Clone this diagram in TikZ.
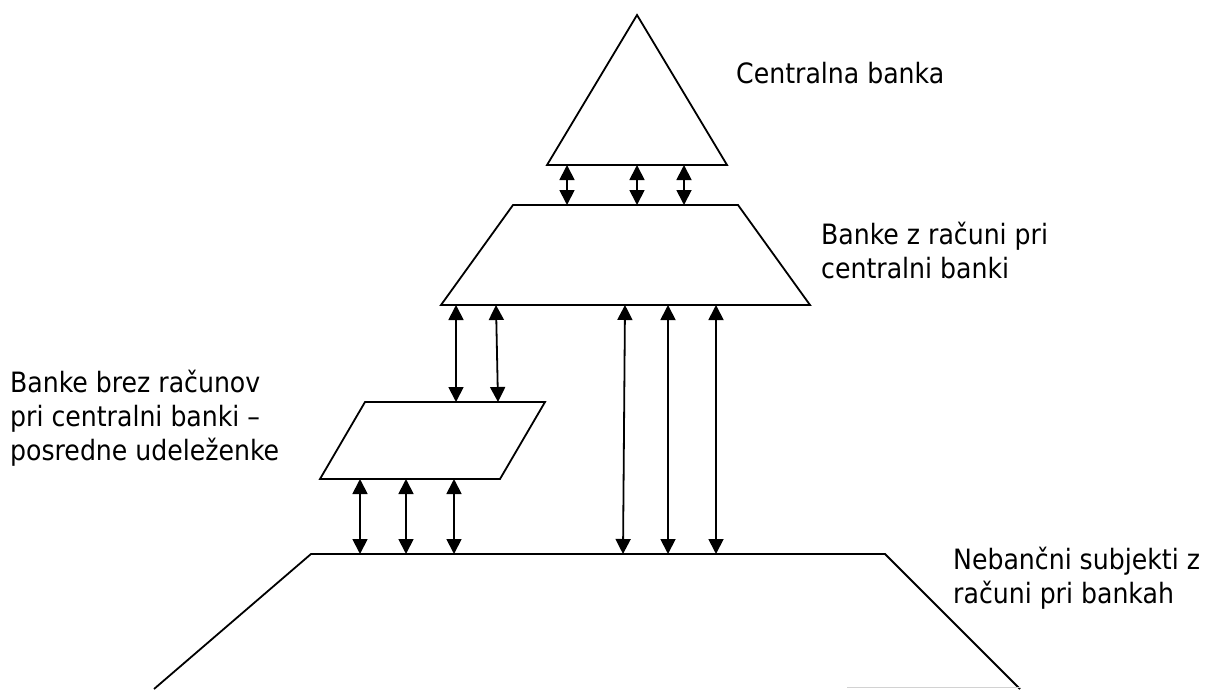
\documentclass[tikz,border=0pt]{standalone}
\usepackage{fontspec}
\setmainfont{DejaVu Sans Condensed}
\usetikzlibrary{arrows.meta}

\tikzset{
  lbl/.style={anchor=base west, align=left, inner sep=0pt,
    font=\fontsize{28}{34}\selectfont},
  tier/.style={draw=black, line width=1.8pt, line join=miter},
  dbl/.style={line width=1.8pt, {Triangle[length=15pt,width=15pt]}-{Triangle[length=15pt,width=15pt]}}
}

\begin{document}
\begin{tikzpicture}[x=1pt, y=-1pt]
\useasboundingbox (0,0) rectangle (1207,689);

% Central bank
\draw[tier] (637,15) -- (727,165) -- (547,165) -- cycle;

% Banks with accounts at the central bank
\draw[tier] (513,205) -- (738,205) -- (810,305) -- (441,305) -- cycle;

% Indirect participants
\draw[tier] (365,402) -- (545,402) -- (500,479) -- (320,479) -- cycle;

% Non-bank subjects (open at the bottom)
\draw[tier] (154,689) -- (311,554) -- (885,554) -- (1020,689);
\draw[gray!35, line width=1pt] (847,687) -- (1020,687);

% Labels (anchored at the baseline of the last line)
\node[lbl] (cb) at (736,83) {Centralna banka};
\node[lbl] (bz) at (821,278) {Banke z računi pri\\centralni banki};
\node[lbl] (bb) at (10,460) {Banke brez računov\\pri centralni banki –\\posredne udeleženke};
\node[lbl] (ns) at (953,603) {Nebančni subjekti z\\računi pri bankah};

% Arrow end points
\foreach \x [count=\i] in {567,637,684} {
  \coordinate (ta\i) at (\x,165);
  \coordinate (tb\i) at (\x,205);
}
\coordinate (ma1) at (456,305); \coordinate (mb1) at (456,402);
\coordinate (ma2) at (496,305); \coordinate (mb2) at (498,402);
\foreach \x [count=\i] in {360,406,454} {
  \coordinate (pa\i) at (\x,479);
  \coordinate (pb\i) at (\x,554);
}
\coordinate (ra1) at (625,305); \coordinate (rb1) at (623,554);
\coordinate (ra2) at (668,305); \coordinate (rb2) at (668,554);
\coordinate (ra3) at (716,305); \coordinate (rb3) at (716,554);

% Arrows
\foreach \i in {1,2,3} \draw[dbl] (ta\i) -- (tb\i);
\foreach \i in {1,2} \draw[dbl] (ma\i) -- (mb\i);
\foreach \i in {1,2,3} \draw[dbl] (pa\i) -- (pb\i);
\foreach \i in {1,2,3} \draw[dbl] (ra\i) -- (rb\i);
\end{tikzpicture}
\end{document}
